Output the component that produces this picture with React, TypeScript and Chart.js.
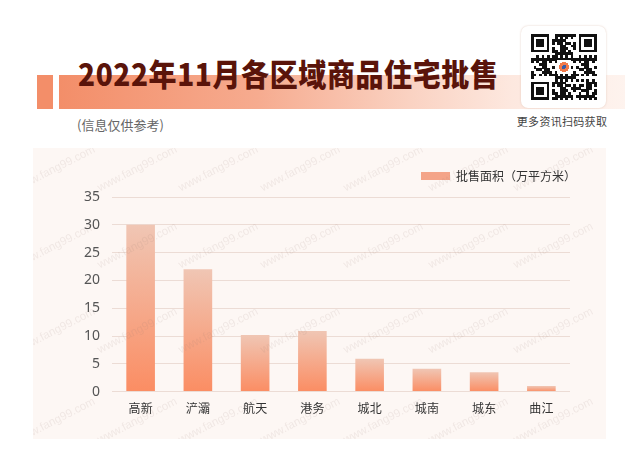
import React, { useEffect, useRef } from 'react';
import { Chart, registerables } from 'chart.js';

Chart.register(...registerables);

const categories = ['高新', '浐灞', '航天', '港务', '城北', '城南', '城东', '曲江'];
const areaValues = [30.0, 22.0, 10.2, 10.9, 5.9, 4.1, 3.5, 1.0];
const yTickValues = [0, 5, 10, 15, 20, 25, 30, 35];
const seriesLabel = '批售面积（万平方米）';
const titleText = '2022年11月各区域商品住宅批售';
const subtitleText = '(信息仅供参考)';
const qrCaption = '更多资讯扫码获取';
const watermarkText = 'www.fang99.com';
const watermarkCols = [55, 137, 218, 300, 383, 468, 553];
const watermarkRows = [168, 245, 330, 420];

const CJK = '"Noto Sans CJK SC", "Noto Sans", sans-serif';
const PANEL = { left: 33, top: 148, width: 573, height: 291 };

function QRCode() {
  const n = 25;
  const size = 66;
  const m = size / n;
  const rects: React.ReactNode[] = [];
  const inFinder = (i: number, j: number) =>
    (i < 8 && j < 8) || (i < 8 && j >= n - 8) || (i >= n - 8 && j < 8);
  for (let i = 0; i < n; i++) {
    for (let j = 0; j < n; j++) {
      if (inFinder(i, j)) continue;
      const h = ((i * 73856093) ^ (j * 19349663) ^ (i * j * 83492791)) >>> 0;
      if ((h >> 3) % 2 === 0) {
        rects.push(<rect key={`${i}-${j}`} x={j * m} y={i * m} width={m + 0.2} height={m + 0.2} fill="#111" />);
      }
    }
  }
  const finder = (r: number, c: number, k: string) => (
    <g key={k}>
      <rect x={c * m} y={r * m} width={7 * m} height={7 * m} fill="#111" />
      <rect x={(c + 1) * m} y={(r + 1) * m} width={5 * m} height={5 * m} fill="#fff" />
      <rect x={(c + 2) * m} y={(r + 2) * m} width={3 * m} height={3 * m} fill="#111" />
    </g>
  );
  return (
    <svg width={size} height={size} shapeRendering="crispEdges" style={{ display: 'block' }}>
      <rect width={size} height={size} fill="#fff" />
      {rects}
      {finder(0, 0, 'a')}
      {finder(0, n - 7, 'b')}
      {finder(n - 7, 0, 'c')}
      <rect x={size / 2 - 7} y={size / 2 - 7} width={14} height={14} fill="#fff" />
      <circle cx={size / 2} cy={size / 2} r={5} fill="#f27a4a" />
      <circle cx={size / 2} cy={size / 2} r={2} fill="#3a5ca8" />
    </svg>
  );
}

export default function App() {
  const canvasRef = useRef<HTMLCanvasElement>(null);

  useEffect(() => {
    document.body.style.margin = '0';
    const canvas = canvasRef.current;
    if (!canvas) return;

    const legendTweak = {
      id: 'legendTweak',
      beforeLayout(chart: any) {
        const l = chart.legend;
        if (l && !l.__patched) {
          const fit = l.fit;
          l.fit = function () {
            fit.call(this);
            this.height += 5;
          };
          l.__patched = true;
        }
      },
      afterLayout(chart: any) {
        const l = chart.legend;
        if (l) {
          l.left += 16;
          l.right += 16;
        }
      },
    };

    const defaultGenerate = (Chart.defaults as any).plugins.legend.labels.generateLabels;

    const chart = new Chart(canvas, {
      type: 'bar',
      data: {
        labels: categories,
        datasets: [
          {
            label: seriesLabel,
            data: areaValues,
            barPercentage: 0.5,
            categoryPercentage: 1,
            borderWidth: 0,
            backgroundColor: (ctx: any) => {
              const c = ctx.chart;
              if (ctx.type !== 'data' || !c.chartArea || !c.scales.y) return '#f3a286';
              const ys = c.scales.y;
              const top = ys.getPixelForValue(ctx.raw as number);
              const base = ys.getPixelForValue(0);
              if (!isFinite(top) || !isFinite(base) || base - top < 1) return '#f8a07e';
              const g = c.ctx.createLinearGradient(0, top, 0, base);
              g.addColorStop(0, '#f0c6b4');
              g.addColorStop(1, '#fb8d63');
              return g;
            },
          },
        ],
      },
      options: {
        responsive: false,
        animation: false,
        layout: { padding: { top: 12, right: 36, bottom: 13, left: 0 } },
        plugins: {
          legend: {
            position: 'top',
            align: 'end',
            labels: {
              boxWidth: 29,
              boxHeight: 8,
              padding: 10,
              color: '#333',
              font: { size: 12, family: CJK },
              generateLabels: (c: any) =>
                defaultGenerate(c).map((item: any) => ({
                  ...item,
                  fillStyle: '#f4a488',
                  strokeStyle: '#f4a488',
                  lineWidth: 0,
                })),
            },
          },
          tooltip: { enabled: false },
        },
        scales: {
          x: {
            grid: { display: false, drawTicks: false },
            border: { display: false },
            ticks: { color: '#333', font: { size: 12, family: CJK }, padding: 10 },
          },
          y: {
            min: 0,
            max: 35,
            afterBuildTicks: (s: any) => {
              s.ticks = yTickValues.map((v) => ({ value: v }));
            },
            afterFit: (s: any) => {
              s.width = 79;
            },
            grid: { color: '#ecdcd5', drawTicks: false, lineWidth: 1 },
            border: { display: false },
            ticks: { color: '#555', font: { size: 14, family: '"Noto Sans", sans-serif' }, padding: 12 },
          },
        },
      },
      plugins: [legendTweak],
    } as any);

    return () => chart.destroy();
  }, []);

  return (
    <div
      style={{
        position: 'absolute',
        left: 0,
        top: 0,
        width: 640,
        height: 465,
        background: '#fff',
        overflow: 'hidden',
        fontFamily: CJK,
      }}
    >
      {/* title band */}
      <div style={{ position: 'absolute', left: 37, top: 75, width: 16, height: 34, background: '#f38e69' }} />
      <div
        style={{
          position: 'absolute',
          left: 59,
          top: 75,
          width: 566,
          height: 34,
          background: 'linear-gradient(to right, #f38e69 0%, #f6ab8f 35%, #fad2c2 62%, #fde8df 80%, #fef3ee 100%)',
        }}
      />
      <div
        style={{
          position: 'absolute',
          left: 78,
          top: 58,
          fontSize: 28,
          lineHeight: '30px',
          fontWeight: 900,
          color: '#5a140a',
          letterSpacing: 0.6,
          whiteSpace: 'nowrap',
          transform: 'scaleY(1.08)',
          transformOrigin: '0 50%',
        }}
      >
        {titleText}
      </div>
      <div
        style={{
          position: 'absolute',
          left: 77,
          top: 116,
          fontSize: 13,
          lineHeight: '18px',
          color: '#666',
          whiteSpace: 'nowrap',
        }}
      >
        {subtitleText}
      </div>

      {/* QR */}
      <div
        style={{
          position: 'absolute',
          left: 521,
          top: 26,
          width: 85,
          height: 82,
          background: '#fff',
          borderRadius: 7,
          boxShadow: '0 0 2px rgba(220,190,175,0.8)',
        }}
      >
        <div style={{ position: 'absolute', left: 10, top: 8 }}>
          <QRCode />
        </div>
      </div>
      <div
        style={{
          position: 'absolute',
          left: 516,
          top: 113,
          width: 92,
          textAlign: 'center',
          fontSize: 11,
          lineHeight: '16px',
          color: '#444',
          letterSpacing: 0.3,
          whiteSpace: 'nowrap',
        }}
      >
        {qrCaption}
      </div>

      {/* chart panel */}
      <div
        style={{
          position: 'absolute',
          left: PANEL.left,
          top: PANEL.top,
          width: PANEL.width,
          height: PANEL.height,
          background: '#fdf7f4',
          overflow: 'hidden',
        }}
      >
        <canvas
          ref={canvasRef}
          width={PANEL.width}
          height={PANEL.height}
          style={{ position: 'absolute', left: 0, top: 0, width: PANEL.width, height: PANEL.height }}
        />
        <div style={{ position: 'absolute', inset: 0, pointerEvents: 'none' }}>
          {watermarkRows.map((ry, ri) =>
            watermarkCols.map((cx, ci) => (
              <span
                key={`${ri}-${ci}`}
                style={{
                  position: 'absolute',
                  left: cx - PANEL.left - 45,
                  top: ry - PANEL.top - 8,
                  width: 90,
                  textAlign: 'center',
                  fontFamily: '"Liberation Sans", Arial, sans-serif',
                  fontSize: 11.5,
                  lineHeight: '16px',
                  color: 'rgba(150,125,115,0.12)',
                  transform: 'rotate(-27deg)',
                  whiteSpace: 'nowrap',
                }}
              >
                {watermarkText}
              </span>
            ))
          )}
        </div>
      </div>
    </div>
  );
}
